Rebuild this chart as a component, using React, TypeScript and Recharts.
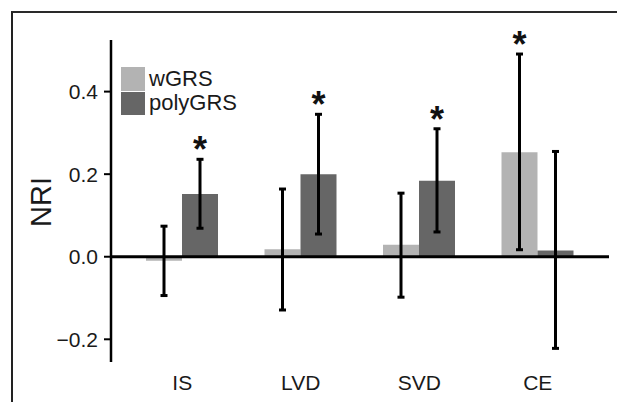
import React from "react";
import {
  BarChart,
  Bar,
  XAxis,
  YAxis,
  ErrorBar,
  ReferenceLine,
  LabelList,
  Label,
} from "recharts";

const categories = ["IS", "LVD", "SVD", "CE"];

const wgrsValues = [-0.01, 0.018, 0.029, 0.253];
const wgrsLow = [-0.094, -0.129, -0.098, 0.017];
const wgrsHigh = [0.074, 0.164, 0.154, 0.491];
const wgrsSig = [false, false, false, true];

const polyValues = [0.152, 0.2, 0.184, 0.015];
const polyLow = [0.069, 0.055, 0.06, -0.222];
const polyHigh = [0.236, 0.345, 0.31, 0.255];
const polySig = [true, true, true, false];

const yTicks = [-0.2, 0, 0.2, 0.4];

const seriesNames = ["wGRS", "polyGRS"];
const seriesColors = ["#b3b3b3", "#666666"];

const FONT = "'Liberation Sans', Arial, Helvetica, sans-serif";

const data = categories.map((cat, i) => ({
  cat,
  wgrs: wgrsValues[i],
  wgrsErr: [wgrsValues[i] - wgrsLow[i], wgrsHigh[i] - wgrsValues[i]],
  poly: polyValues[i],
  polyErr: [polyValues[i] - polyLow[i], polyHigh[i] - polyValues[i]],
}));

const fmt = (v: number) =>
  v < 0 ? "\u2212" + Math.abs(v).toFixed(1) : v.toFixed(1);

// asterisk drawn above the upper end of the error bar
const starLabel = (values: number[], highs: number[], sig: boolean[]) =>
  (props: any) => {
    const { x, y, width, height, index } = props;
    let i = index;
    if (i === undefined) i = values.indexOf(props.value);
    if (i < 0 || !sig[i]) return null;
    const v = values[i];
    const ppu = Math.abs(height) / Math.abs(v);
    const top = Math.min(y, y + height) - (highs[i] - v) * ppu;
    return (
      <text
        x={x + width / 2}
        y={top + 3}
        textAnchor="middle"
        fontSize={36}
        fontWeight="bold"
        fontFamily={FONT}
        fill="#111"
      >
        *
      </text>
    );
  };

export default function App() {
  return (
    <div
      style={{
        position: "relative",
        width: 617,
        height: 394,
        overflow: "hidden",
        fontFamily: FONT,
      }}
    >
      <div
        style={{
          position: "absolute",
          left: 3,
          top: 3,
          width: 700,
          height: 500,
          borderLeft: "2px solid #222",
          borderTop: "2px solid #2a2a2a",
        }}
      />
      <BarChart
        width={617}
        height={394}
        data={data}
        margin={{ top: 32, right: 16, left: 0, bottom: 10 }}
        barCategoryGap={23}
        barGap={0}
      >
        <XAxis
          dataKey="cat"
          axisLine={false}
          tickLine={false}
          padding={{ left: 12, right: 12 }}
          height={30}
          tickMargin={7}
          fontSize={21}
          fontFamily={FONT}
          tick={{ fontSize: 21, fill: "#1a1a1a" }}
        />
        <YAxis
          type="number"
          domain={[-0.255, 0.525]}
          ticks={yTicks}
          tickFormatter={fmt}
          width={103}
          axisLine={{ stroke: "#000", strokeWidth: 2.5 }}
          tickLine={{ stroke: "#000", strokeWidth: 2 }}
          tickSize={7}
          tickMargin={6}
          fontSize={21}
          fontFamily={FONT}
          tick={{ fontSize: 21, fill: "#1a1a1a" }}
        >
          <Label
            content={() => (
              <text
                x={33}
                y={194}
                transform="rotate(-90, 33, 194)"
                textAnchor="middle"
                dominantBaseline="central"
                fontSize={29}
                fontFamily={FONT}
                fill="#1a1a1a"
              >
                NRI
              </text>
            )}
          />
        </YAxis>
        <Bar dataKey="wgrs" fill={seriesColors[0]} isAnimationActive={false}>
          <ErrorBar
            dataKey="wgrsErr"
            width={3.5}
            strokeWidth={3}
            stroke="#000"
            direction="y"
          />
          <LabelList
            dataKey="wgrs"
            content={starLabel(wgrsValues, wgrsHigh, wgrsSig)}
          />
        </Bar>
        <Bar dataKey="poly" fill={seriesColors[1]} isAnimationActive={false}>
          <ErrorBar
            dataKey="polyErr"
            width={3.5}
            strokeWidth={3}
            stroke="#000"
            direction="y"
          />
          <LabelList
            dataKey="poly"
            content={starLabel(polyValues, polyHigh, polySig)}
          />
        </Bar>
        <ReferenceLine y={0} stroke="#000" strokeWidth={3} />
      </BarChart>
      <div style={{ position: "absolute", left: 113, top: 58.5 }}>
        {seriesNames.map((name, i) => (
          <div
            key={name}
            style={{ display: "flex", alignItems: "center", height: 24.5 }}
          >
            <div
              style={{
                width: 24,
                height: 23.5,
                background: seriesColors[i],
                marginRight: 4,
              }}
            />
            <span style={{ fontSize: 22, color: "#1a1a1a", lineHeight: 1 }}>
              {name}
            </span>
          </div>
        ))}
      </div>
    </div>
  );
}
